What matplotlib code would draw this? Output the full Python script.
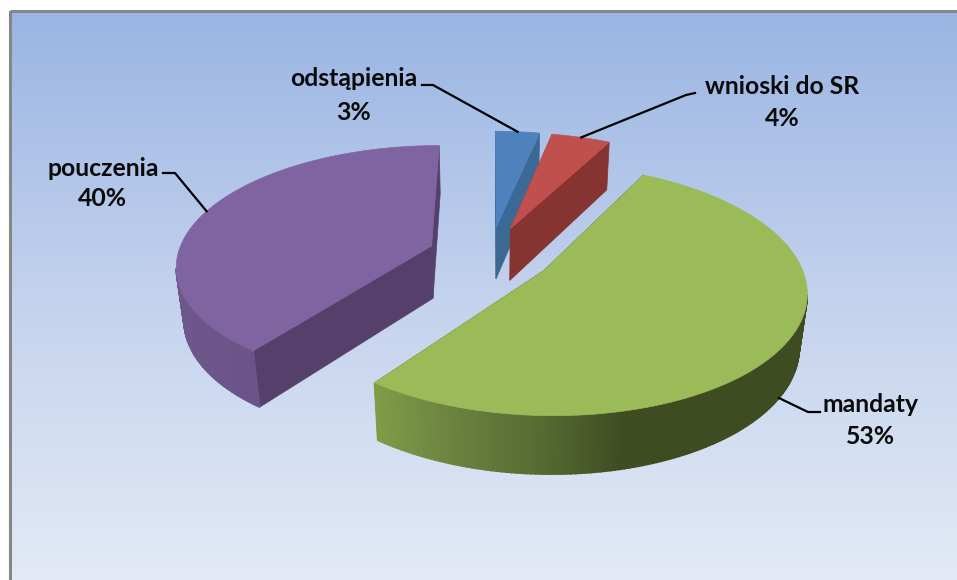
#!/usr/bin/env python3
"""Exploded 3D pie drawn by hand, matplotlib has no perspective pie."""

import matplotlib
matplotlib.use("Agg")
import matplotlib.pyplot as plt
from matplotlib.colors import LinearSegmentedColormap, to_rgb
from matplotlib.patches import Polygon, Rectangle
import numpy as np

# clockwise from 12 o'clock (labels show them rounded)
labels = ["odstąpienia", "wnioski do SR", "mandaty", "pouczenia"]
shares = [3.3, 4.4, 52.51, 39.79]

TOP_COLORS = ["#4f81bd", "#c0504d", "#9bbb59", "#8064a2"]
CUT_COLORS = ["#3c6896", "#863432", "#3f4c22", "#54406a"]
# outer wall colours as (screen x, colour) stops
WALL_STOPS = [
    [(480, "#3c6896"), (560, "#3c6896")],
    [(500, "#863432"), (620, "#863432")],
    [(375, "#7f9c48"), (450, "#6c8340"), (540, "#566b31"), (625, "#3f4c22"), (810, "#3f4c22")],
    [(175, "#6d578b"), (260, "#6a5487")],
]
DRAW_ORDER = [3, 0, 1, 2]

CX, CY = 490, 255
RX, RY = 254, 118
PERSP = 0.15
PERSP_Z = 0.025
DEPTH = 54
EXPLODE = 0.245


def project(x, y, z=0.0):
    w = 1 + PERSP * y + PERSP_Z * z
    return CX + RX * x / w, CY - RY * y / w + DEPTH * z / w


def rim(angle, mid, z=0.0):
    x = EXPLODE * np.sin(mid) + np.sin(angle)
    y = EXPLODE * np.cos(mid) + np.cos(angle)
    return project(x, y, z)


def apex(mid, z=0.0):
    return project(EXPLODE * np.sin(mid), EXPLODE * np.cos(mid), z)


def wall_color(stops, x):
    xs = [s[0] for s in stops]
    rgb = np.array([to_rgb(s[1]) for s in stops])
    return tuple(np.interp(x, xs, rgb[:, j]) for j in range(3))


def draw_wedge(ax, start, end, i):
    mid = (start + end) / 2
    angles = np.linspace(start, end, max(4, int((end - start) * 60)))

    # the two cut faces go first, the top hides whichever faces away
    for a in (start, end):
        face = [apex(mid), rim(a, mid), rim(a, mid, 1), apex(mid, 1)]
        ax.add_patch(Polygon(face, closed=True, fc=CUT_COLORS[i], ec=CUT_COLORS[i], lw=0.5))

    for k in range(len(angles) - 1):
        a0, a1 = angles[k], angles[k + 1]
        quad = [rim(a0, mid), rim(a1, mid), rim(a1, mid, 1), rim(a0, mid, 1)]
        # keep only the part of the wall facing the viewer
        x0, _ = rim(a0, mid)
        x1, _ = rim(a1, mid)
        if x1 >= x0:
            continue
        c = wall_color(WALL_STOPS[i], (x0 + x1) / 2)
        ax.add_patch(Polygon(quad, closed=True, fc=c, ec=c, lw=1.2))

    top = [apex(mid)] + [rim(a, mid) for a in angles]
    ax.add_patch(Polygon(top, closed=True, fc=TOP_COLORS[i], ec=TOP_COLORS[i], lw=0.5))


def main():
    plt.rcParams["font.family"] = ["Lato", "DejaVu Sans"]
    fig = plt.figure(figsize=(9.57, 5.80), dpi=100)
    ax = fig.add_axes([0, 0, 1, 1])
    ax.axis("off")

    # chart area with its vertical gradient
    grad = LinearSegmentedColormap.from_list("bg", ["#9ab5e3", "#c3d2ed", "#e3eaf6"])
    ax.imshow(np.linspace(0, 1, 256)[:, None], cmap=grad, aspect="auto",
              extent=(9, 957, 580, 11), zorder=0)
    ax.add_patch(Rectangle((9.5, 11), 960, 580, fc="none", ec="#868686", lw=2.2, zorder=1))
    ax.set_xlim(0, 957)
    ax.set_ylim(580, 0)

    total = sum(shares)
    edges = np.concatenate([[0], np.cumsum(shares)]) / total * 2 * np.pi
    for i in DRAW_ORDER:
        draw_wedge(ax, edges[i], edges[i + 1], i)

    # label centre (x, y of the name line, y of the percent line), elbow point
    layout = [
        (354, 79, 112, [(422, 85), (433, 85)], 0),
        (782, 87, 118, [(695, 93), (686, 95)], 0),
        (871, 404, 437, [(820, 412), (808, 412)], 1),
        (103, 168, 199, [(163, 173), (175, 173)], 0),
    ]
    for i, (tx, ty, py, elbow, z) in enumerate(layout):
        mid = (edges[i] + edges[i + 1]) / 2
        end = rim(mid, mid, z)
        pts = elbow + [end]
        ax.plot([p[0] for p in pts], [p[1] for p in pts], color="black", lw=1.6,
                solid_joinstyle="round", zorder=5)
        ax.text(tx, ty, labels[i], ha="center", va="center", fontsize=17.8,
                fontweight="bold", color="#0a0a0a", zorder=6)
        ax.text(tx, py, f"{round(shares[i])}%", ha="center", va="center", fontsize=17.8,
                fontweight="bold", color="#0a0a0a", zorder=6)

    fig.savefig("out.png", dpi=100)


if __name__ == "__main__":
    main()
